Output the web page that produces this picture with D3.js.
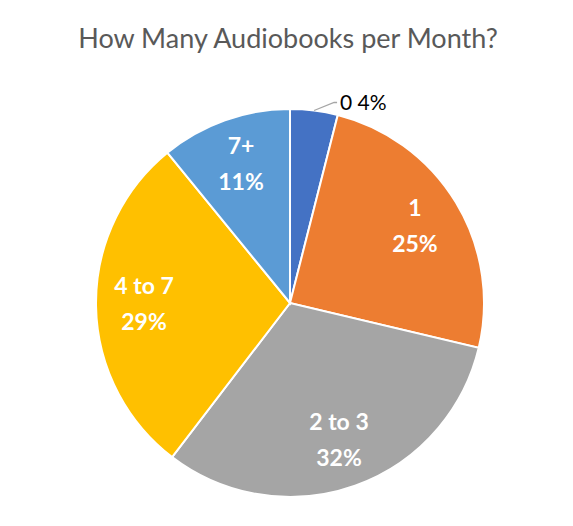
<!DOCTYPE html>
<html>
<head>
<meta charset="utf-8">
<title>How Many Audiobooks per Month?</title>
<script src="https://d3js.org/d3.v7.min.js"></script>
<style>
  body { margin: 0; background: #fff; }
  svg { display: block; }
</style>
</head>
<body>
<svg width="573" height="526"></svg>
<script>
// values
var categories = ["0", "1", "2 to 3", "4 to 7", "7+"];
var values = [4, 25, 32, 29, 11];
var colors = ["#4472C4", "#ED7D31", "#A5A5A5", "#FFC000", "#5B9BD5"];

var width = 573, height = 526;
var cx = 290, cy = 303, radius = 194;
var font = "Lato, 'Open Sans', sans-serif";

var data = categories.map(function(c, i) { return { cat: c, value: values[i] }; });

var svg = d3.select("svg");

svg.append("text")
  .attr("x", 288)
  .attr("y", 48)
  .attr("text-anchor", "middle")
  .style("font-family", font)
  .style("font-size", "27px")
  .style("fill", "#595959")
  .text("How Many Audiobooks per Month?");

var pie = d3.pie().sort(null).value(function(d) { return d.value; });
var arc = d3.arc().innerRadius(0).outerRadius(radius);
var labelArc = d3.arc().innerRadius(146).outerRadius(146);
var edgeArc = d3.arc().innerRadius(radius).outerRadius(radius);

var g = svg.append("g").attr("transform", "translate(" + cx + "," + cy + ")");
var arcs = pie(data);

g.selectAll("path.slice").data(arcs).enter().append("path")
  .attr("class", "slice")
  .attr("d", arc)
  .attr("fill", function(d, i) { return colors[i]; })
  .attr("stroke", "#fff")
  .attr("stroke-width", 2);

var fmt = function(d) { return Math.round(d.data.value) + "%"; };

// inside labels for the big slices
var inside = g.selectAll("text.inlabel").data(arcs.filter(function(d) { return d.data.value >= 10; }))
  .enter().append("text")
  .attr("class", "inlabel")
  .attr("transform", function(d) { return "translate(" + labelArc.centroid(d) + ")"; })
  .attr("text-anchor", "middle")
  .style("font-family", font)
  .style("font-size", "23px")
  .style("font-weight", "bold")
  .style("fill", "#fff");
inside.append("tspan").attr("x", 0).attr("y", -11).text(function(d) { return d.data.cat; });
inside.append("tspan").attr("x", 0).attr("y", 25).text(fmt);

// small slice: outside label with leader line
var small = arcs.filter(function(d) { return d.data.value < 10; });
small.forEach(function(d) {
  var p0 = edgeArc.centroid(d);
  var p1 = [p0[0] + 20, p0[1] - 8];
  var p2 = [p1[0] + 3, p1[1]];
  g.append("polyline")
    .attr("points", [p0, p1, p2].map(function(p) { return p.join(","); }).join(" "))
    .attr("fill", "none")
    .attr("stroke", "#A6A6A6")
    .attr("stroke-width", 1.3);
  g.append("text")
    .attr("x", p2[0] + 3)
    .attr("y", p2[1] + 7)
    .style("font-family", font)
    .style("font-size", "21px")
    .style("fill", "#000")
    .text(d.data.cat + " " + fmt(d));
});
</script>
</body>
</html>
